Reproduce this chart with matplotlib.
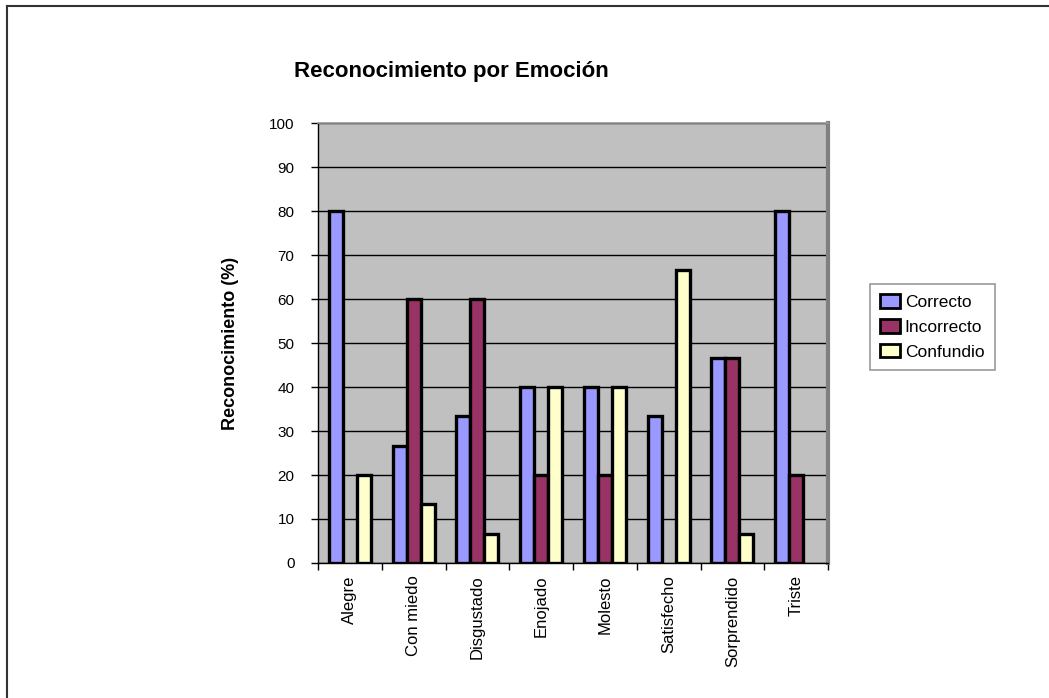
import matplotlib
matplotlib.use("Agg")
import matplotlib.pyplot as plt
import numpy as np
from matplotlib.lines import Line2D
from matplotlib.patches import Patch

plt.rcParams['font.family'] = ['Liberation Sans', 'DejaVu Sans']

emociones = ["Alegre", "Con miedo", "Disgustado", "Enojado",
             "Molesto", "Satisfecho", "Sorprendido", "Triste"]
correcto = [80, 26.67, 33.33, 40, 40, 33.33, 46.67, 80]
incorrecto = [0, 60, 60, 20, 20, 0, 46.67, 20]
confundio = [20, 13.33, 6.67, 40, 40, 66.67, 6.67, 0]
series = [("Correcto", correcto, "#9999FF"),
          ("Incorrecto", incorrecto, "#993366"),
          ("Confundio", confundio, "#FFFFCC")]
yticks = list(range(0, 101, 10))

W, H = 1049, 698
fig = plt.figure(figsize=(W / 100, H / 100), dpi=100)
fig.patch.set_facecolor("white")

# plot area in pixel coordinates
L, R, T, B = 318, 828, 123, 563
ax = fig.add_axes([L / W, 1 - B / H, (R - L) / W, (B - T) / H])
ax.set_facecolor("#C0C0C0")

n = len(emociones)
x = np.arange(n)
bw = 0.22
for i, (name, vals, col) in enumerate(series):
    heights = np.array(vals, dtype=float)
    mask = heights > 0
    ax.bar(x[mask] + (i - 1) * bw, heights[mask], width=bw, color=col,
           edgecolor="black", linewidth=2.4, zorder=3, label=name)

ax.set_xlim(-0.5, n - 0.5)
ax.set_ylim(0, 100)
ax.set_yticks(yticks)
ax.set_yticklabels([str(v) for v in yticks], fontsize=11)
ax.yaxis.grid(True, color="black", linewidth=1)
ax.set_axisbelow(True)

# category ticks sit between the groups
ax.set_xticks(np.arange(n + 1) - 0.5)
ax.set_xticklabels([])
ax.set_xticks(x, minor=True)
ax.set_xticklabels(emociones, minor=True, rotation=90, fontsize=12,
                   va="top", ha="center")
ax.tick_params(axis="x", which="minor", length=0, pad=9)
ax.tick_params(axis="x", which="major", length=5, width=1, direction="out")
ax.tick_params(axis="y", length=5, width=1, direction="out", pad=12)

ax.spines["top"].set_color("#9a9a9a")
ax.spines["top"].set_linewidth(1.2)
ax.spines["right"].set_color("#808080")
ax.spines["right"].set_linewidth(3)
ax.spines["left"].set_color("black")
ax.spines["left"].set_linewidth(1)
ax.spines["bottom"].set_color("black")
ax.spines["bottom"].set_linewidth(1)

ax.set_ylabel("Reconocimiento (%)", fontsize=13, fontweight="bold")
ax.yaxis.set_label_coords(-0.155, 0.5)

fig.text(451 / W, 1 - 72 / H, "Reconocimiento por Emoción",
         fontsize=16, fontweight="bold", ha="center", va="center")

handles = [Patch(facecolor=c, edgecolor="black", linewidth=2, label=nm)
           for nm, _, c in series]
leg = fig.legend(handles=handles, loc="upper left",
                 bbox_to_anchor=(870 / W, 1 - 284 / H), fontsize=12.5,
                 frameon=True, fancybox=False, handlelength=1.1,
                 handleheight=0.85, handletextpad=0.3, borderpad=0.6,
                 labelspacing=0.5, borderaxespad=0)
leg.get_frame().set_edgecolor("#808080")
leg.get_frame().set_linewidth(1.2)

# outer chart border (left and top edges)
fig.add_artist(Line2D([7 / W, 7 / W], [0, 1 - 6 / H], color="#333333",
                      linewidth=1.5, transform=fig.transFigure))
fig.add_artist(Line2D([7 / W, 1], [1 - 6 / H, 1 - 6 / H], color="#333333",
                      linewidth=1.5, transform=fig.transFigure))

fig.savefig("out.png", dpi=100)
